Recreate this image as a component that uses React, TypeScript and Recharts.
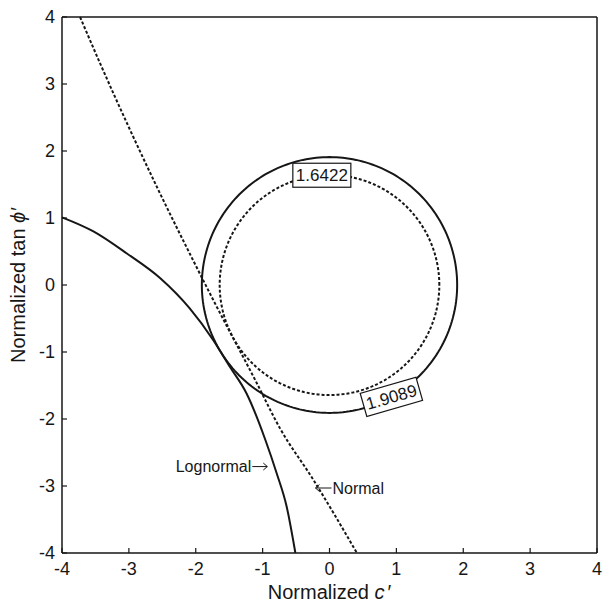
import { ComposedChart, Line, XAxis, YAxis, ReferenceDot, Label } from "recharts";

const FONT = "'Liberation Sans', Arial, Helvetica, sans-serif";
const INK = "#161616";

const axisTicks = [-4, -3, -2, -1, 0, 1, 2, 3, 4];

// limit-state curves in standard normal space
const normalX = [-3.73, -3.44, -2.56, -2.04, -1.74, -1.11, -0.74, -0.24, 0.41];
const normalY = [4.0, 3.33, 1.42, 0.37, -0.22, -1.42, -2.14, -2.91, -4.0];
const lognormalX = [-4.0, -3.53, -3.03, -2.53, -2.09, -1.74, -1.49, -1.24, -0.96, -0.79, -0.64, -0.51];
const lognormalY = [1.01, 0.8, 0.47, 0.1, -0.35, -0.82, -1.22, -1.62, -2.31, -2.81, -3.31, -4.0];

// reliability indices (radii of the beta circles)
const betaNormal = 1.6422;
const betaLognormal = 1.9089;

// where the contour labels sit on each circle, degrees
const betaNormalAngle = 94;
const betaLognormalAngle = -61;

// arrow tips of the curve annotations
const lognormalTip = { x: -0.93, y: -2.71 };
const normalTip = { x: -0.21, y: -3.03 };

const zip = (xs: number[], ys: number[]) => xs.map((x, i) => ({ x, y: ys[i] }));

function circle(r: number) {
  const n = 240;
  return Array.from({ length: n + 1 }, (_, i) => {
    const t = (i / n) * 2 * Math.PI;
    return { x: r * Math.cos(t), y: r * Math.sin(t) };
  });
}

const onCircle = (r: number, deg: number) => ({
  x: r * Math.cos((deg * Math.PI) / 180),
  y: r * Math.sin((deg * Math.PI) / 180),
});

// chart box and the plot rectangle it leaves
const W = 611;
const H = 609;
const MARGIN = { top: 16, right: 13, bottom: 0, left: 0 };
const X_AXIS_H = 56;
const Y_AXIS_W = 62;
const PLOT = {
  left: MARGIN.left + Y_AXIS_W,
  top: MARGIN.top + 1,
  right: W - MARGIN.right - 1,
  bottom: H - MARGIN.bottom - X_AXIS_H,
};

const TICK_LEN = 5;
const tickText = { fontSize: 18, fill: INK, fontFamily: FONT };

// inward ticks on all four sides, labels only bottom/left
const BottomTick = (p: any) => (
  <g>
    <line x1={p.x} x2={p.x} y1={PLOT.bottom} y2={PLOT.bottom - TICK_LEN} stroke={INK} strokeWidth={1.2} />
    <text x={p.x} y={PLOT.bottom + 9} dy="0.71em" textAnchor="middle" {...tickText}>
      {p.payload.value}
    </text>
  </g>
);
const LeftTick = (p: any) => (
  <g>
    <line x1={PLOT.left} x2={PLOT.left + TICK_LEN} y1={p.y} y2={p.y} stroke={INK} strokeWidth={1.2} />
    <text x={PLOT.left - 7} y={p.y} dy="0.355em" textAnchor="end" {...tickText}>
      {p.payload.value}
    </text>
  </g>
);
const TopTick = (p: any) => <line x1={p.x} x2={p.x} y1={PLOT.top} y2={PLOT.top + TICK_LEN} stroke={INK} strokeWidth={1.2} />;
const RightTick = (p: any) => <line x1={PLOT.right} x2={PLOT.right - TICK_LEN} y1={p.y} y2={p.y} stroke={INK} strokeWidth={1.2} />;

function BoxLabel({ cx, cy, text, angle }: { cx?: number; cy?: number; text: string; angle: number }) {
  if (cx == null || cy == null) return null;
  return (
    <g transform={`translate(${cx},${cy}) rotate(${angle})`}>
      <rect x={-29} y={-12} width={58} height={24} fill="#fff" stroke={INK} strokeWidth={1.2} />
      <text x={0} y={6} textAnchor="middle" fontSize={17} fontFamily={FONT} fill={INK}>
        {text}
      </text>
    </g>
  );
}

function LognormalNote({ cx, cy }: { cx?: number; cy?: number }) {
  if (cx == null || cy == null) return null;
  return (
    <g fontFamily={FONT} fontSize={16} fill={INK}>
      <text x={cx - 16} y={cy + 5.5} textAnchor="end">Lognormal</text>
      <path d={`M${cx - 15},${cy} L${cx},${cy} M${cx - 4},${cy - 3.5} L${cx},${cy} L${cx - 4},${cy + 3.5}`} stroke={INK} strokeWidth={1} fill="none" />
    </g>
  );
}

function NormalNote({ cx, cy }: { cx?: number; cy?: number }) {
  if (cx == null || cy == null) return null;
  return (
    <g fontFamily={FONT} fontSize={16} fill={INK}>
      <path d={`M${cx},${cy} L${cx + 16},${cy} M${cx + 4},${cy - 3.5} L${cx},${cy} L${cx + 4},${cy + 3.5}`} stroke={INK} strokeWidth={1} fill="none" />
      <text x={cx + 17} y={cy + 5.5} textAnchor="start">Normal</text>
    </g>
  );
}

const axisLine = { stroke: INK, strokeWidth: 1.5 };

export default function App() {
  const nLabel = onCircle(betaNormal, betaNormalAngle);
  const lnLabel = onCircle(betaLognormal, betaLognormalAngle);
  return (
    <div style={{ width: W, height: H, margin: -8, background: "#fff" }}>
      <ComposedChart width={W} height={H} margin={MARGIN}>
        <XAxis
          dataKey="x"
          type="number"
          domain={[-4, 4]}
          ticks={axisTicks}
          interval={0}
          height={X_AXIS_H}
          tickLine={false}
          tick={BottomTick}
          axisLine={axisLine}
        >
          <Label
            content={() => (
              <text x={(PLOT.left + PLOT.right) / 2} y={PLOT.bottom + 46} textAnchor="middle" fontSize={20} fontFamily={FONT} fill={INK}>
                Normalized <tspan fontStyle="italic">c</tspan>
                <tspan dx={3}>′</tspan>
              </text>
            )}
          />
        </XAxis>
        <XAxis
          xAxisId="top"
          orientation="top"
          dataKey="x"
          type="number"
          domain={[-4, 4]}
          ticks={axisTicks}
          interval={0}
          height={1}
          tickLine={false}
          tick={TopTick}
          axisLine={axisLine}
        />
        <YAxis
          type="number"
          domain={[-4, 4]}
          ticks={axisTicks}
          interval={0}
          width={Y_AXIS_W}
          tickLine={false}
          tick={LeftTick}
          axisLine={axisLine}
        >
          <Label
            content={() => {
              const cx = 25;
              const cy = (PLOT.top + PLOT.bottom) / 2;
              return (
                <text x={cx} y={cy} transform={`rotate(-90 ${cx} ${cy})`} textAnchor="middle" fontSize={20} fontFamily={FONT} fill={INK}>
                  Normalized tan <tspan fontStyle="italic">ϕ</tspan>
                  <tspan dx={1}>′</tspan>
                </text>
              );
            }}
          />
        </YAxis>
        <YAxis
          yAxisId="right"
          orientation="right"
          type="number"
          domain={[-4, 4]}
          ticks={axisTicks}
          interval={0}
          width={1}
          tickLine={false}
          tick={RightTick}
          axisLine={axisLine}
        />

        <Line data={circle(betaLognormal)} dataKey="y" type="linear" stroke={INK} strokeWidth={2} dot={false} isAnimationActive={false} />
        <Line data={circle(betaNormal)} dataKey="y" type="linear" stroke={INK} strokeWidth={2} strokeDasharray="3 2" dot={false} isAnimationActive={false} />
        <Line data={zip(lognormalX, lognormalY)} dataKey="y" type="monotone" stroke={INK} strokeWidth={2} dot={false} isAnimationActive={false} />
        <Line data={zip(normalX, normalY)} dataKey="y" type="monotone" stroke={INK} strokeWidth={2} strokeDasharray="3 2" dot={false} isAnimationActive={false} />

        <ReferenceDot x={nLabel.x} y={nLabel.y} r={0} shape={(p: any) => <BoxLabel cx={p.cx} cy={p.cy} text={String(betaNormal)} angle={0} />} />
        <ReferenceDot x={lnLabel.x} y={lnLabel.y} r={0} shape={(p: any) => <BoxLabel cx={p.cx} cy={p.cy} text={String(betaLognormal)} angle={-16} />} />
        <ReferenceDot x={lognormalTip.x} y={lognormalTip.y} r={0} shape={(p: any) => <LognormalNote cx={p.cx} cy={p.cy} />} />
        <ReferenceDot x={normalTip.x} y={normalTip.y} r={0} shape={(p: any) => <NormalNote cx={p.cx} cy={p.cy} />} />
      </ComposedChart>
    </div>
  );
}
